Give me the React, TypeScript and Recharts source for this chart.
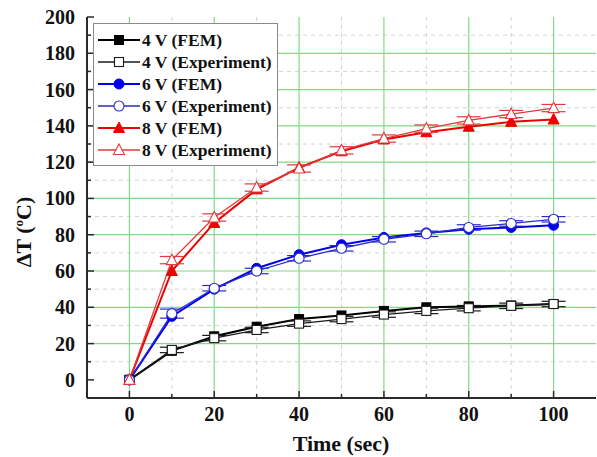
import React from "react";
import {
  ComposedChart,
  Line,
  XAxis,
  YAxis,
  CartesianGrid,
  Legend,
  ErrorBar,
} from "recharts";

// heating time (s) and temperature rise (°C) per drive voltage
const times = [0, 10, 20, 30, 40, 50, 60, 70, 80, 90, 100];
const fem4 = [0, 16, 24, 29.3, 33.5, 35.5, 38, 40, 40.5, 41, 41.8];
const exp4 = [0, 16.5, 23, 27.5, 31, 33.5, 36, 38, 39.5, 40.8, 41.8];
const fem6 = [0, 35, 50, 61.5, 69, 74.5, 78.5, 81, 83, 84, 85.2];
const exp6 = [0, 36.5, 50.5, 60, 67, 72.5, 77.5, 80.5, 84, 86.2, 88.5];
const fem8 = [0, 60, 86.5, 105, 117, 126, 132.5, 136.5, 139.5, 142.2, 143.5];
const exp8 = [0, 66, 89.5, 106, 116.5, 126.5, 133, 138.5, 143, 146.5, 149.8];
const err4 = [0, 1.5, 1.5, 1.5, 1.5, 1.5, 1.5, 1.5, 1.5, 1.5, 1.5];
const err6 = [0, 2.5, 1.5, 1.5, 1.5, 1.5, 1.5, 1.5, 1.5, 1.5, 1.5];
const err8 = [0, 2, 2, 2, 2, 2, 2, 2, 2, 2, 2];

const xTicks = [0, 10, 20, 30, 40, 50, 60, 70, 80, 90, 100];
const yTicks = [
  0, 10, 20, 30, 40, 50, 60, 70, 80, 90, 100, 110, 120, 130, 140, 150, 160,
  170, 180, 190, 200,
];
const majorX = [0, 20, 40, 60, 80, 100];
const minorX = [10, 30, 50, 70, 90];
const majorY = [20, 40, 60, 80, 100, 120, 140, 160, 180];
const minorY = [10, 30, 50, 70, 90, 110, 130, 150, 170, 190];

const data = times.map((t, i) => ({
  t,
  fem4: fem4[i],
  exp4: exp4[i],
  fem6: fem6[i],
  exp6: exp6[i],
  fem8: fem8[i],
  exp8: exp8[i],
  err4: err4[i],
  err6: err6[i],
  err8: err8[i],
}));

const FONT = "'Liberation Serif', 'Times New Roman', serif";
const FRAME = "#2a2a2a";
const MAJOR = 7;
const MINOR = 4;

type Shape = "square" | "circle" | "triangle";

interface MarkProps {
  cx: number;
  cy: number;
  shape: Shape;
  color: string;
  open?: boolean;
}

function Mark({ cx, cy, shape, color, open }: MarkProps) {
  const fill = open ? "#fff" : color;
  const sw = open ? 1.1 : 1;
  if (shape === "square") {
    return (
      <rect x={cx - 4.5} y={cy - 4.5} width={9} height={9} fill={fill} stroke={color} strokeWidth={sw} />
    );
  }
  if (shape === "circle") {
    return <circle cx={cx} cy={cy} r={5} fill={fill} stroke={color} strokeWidth={sw} />;
  }
  return (
    <polygon
      points={`${cx},${cy - 6} ${cx + 5.5},${cy + 4.5} ${cx - 5.5},${cy + 4.5}`}
      fill={fill}
      stroke={color}
      strokeWidth={sw}
    />
  );
}

const series = [
  { key: "fem4", name: "4 V (FEM)", color: "#000", width: 2, shape: "square" as Shape, open: false },
  { key: "exp4", name: "4 V (Experiment)", color: "#1a1a1a", width: 1.3, shape: "square" as Shape, open: true, err: "err4" },
  { key: "fem6", name: "6 V (FEM)", color: "#0000ee", width: 2, shape: "circle" as Shape, open: false },
  { key: "exp6", name: "6 V (Experiment)", color: "#2a2ac8", width: 1.3, shape: "circle" as Shape, open: true, err: "err6" },
  { key: "fem8", name: "8 V (FEM)", color: "#ee0000", width: 2, shape: "triangle" as Shape, open: false },
  { key: "exp8", name: "8 V (Experiment)", color: "#e03a3a", width: 1.3, shape: "triangle" as Shape, open: true, err: "err8" },
];

function BottomTick({ x, y, payload }: any) {
  const major = payload.value % 20 === 0;
  return (
    <g>
      <line x1={x} x2={x} y1={y} y2={y - (major ? MAJOR : MINOR)} stroke={FRAME} strokeWidth={1.5} />
      {major && (
        <text x={x} y={y + 23} textAnchor="middle" fontFamily={FONT} fontWeight="bold" fontSize={20} fill="#111">
          {payload.value}
        </text>
      )}
    </g>
  );
}

function TopTick({ x, y, payload }: any) {
  const major = payload.value % 20 === 0;
  return <line x1={x} x2={x} y1={y} y2={y + (major ? MAJOR : MINOR)} stroke={FRAME} strokeWidth={1.5} />;
}

function LeftTick({ x, y, payload }: any) {
  const major = payload.value % 20 === 0;
  return (
    <g>
      <line x1={x} x2={x + (major ? MAJOR : MINOR)} y1={y} y2={y} stroke={FRAME} strokeWidth={1.5} />
      {major && (
        <text x={x - 12} y={y} dy="0.35em" textAnchor="end" fontFamily={FONT} fontWeight="bold" fontSize={20} fill="#111">
          {payload.value}
        </text>
      )}
    </g>
  );
}

function RightTick({ x, y, payload }: any) {
  const major = payload.value % 20 === 0;
  return <line x1={x} x2={x - (major ? MAJOR : MINOR)} y1={y} y2={y} stroke={FRAME} strokeWidth={1.5} />;
}

function LegendBox() {
  return (
    <div
      style={{
        border: "1px solid #8a8a8a",
        background: "#fff",
        width: 183,
        padding: "5px 0 4px 0",
        fontFamily: FONT,
        fontWeight: "bold",
        fontSize: 17.5,
        color: "#111",
        lineHeight: "22px",
      }}
    >
      {series.map((s) => (
        <div key={s.key} style={{ display: "flex", alignItems: "center", height: 22 }}>
          <svg width={48} height={22} style={{ flex: "none" }}>
            <line x1={4} x2={46} y1={11} y2={11} stroke={s.color} strokeWidth={s.width} />
            <Mark cx={25} cy={11} shape={s.shape} color={s.color} open={s.open} />
          </svg>
          <span style={{ whiteSpace: "nowrap" }}>{s.name}</span>
        </div>
      ))}
    </div>
  );
}

export default function App() {
  return (
    <div style={{ position: "absolute", left: 0, top: 0, background: "#fff" }}>
      <ComposedChart
        width={597}
        height={457}
        data={data}
        margin={{ top: 17, right: 1, bottom: 0, left: 0 }}
      >
        <CartesianGrid
          stroke="#d2d2d2"
          strokeDasharray="4 4"
          horizontalValues={minorY}
          verticalValues={minorX}
        />
        <CartesianGrid
          stroke="#86d886"
          strokeWidth={1.2}
          horizontalValues={majorY}
          verticalValues={majorX}
        />
        <XAxis
          dataKey="t"
          type="number"
          domain={[-10, 110]}
          allowDataOverflow
          ticks={xTicks}
          interval={0}
          height={59}
          tickSize={0}
          tickMargin={0}
          tickLine={false}
          tick={<BottomTick />}
          axisLine={{ stroke: FRAME, strokeWidth: 2 }}
          label={() => (
            <text x={341} y={451} textAnchor="middle" fontFamily={FONT} fontWeight="bold" fontSize={22} fill="#111">
              Time (sec)
            </text>
          )}
        />
        <XAxis
          xAxisId="top"
          orientation="top"
          type="number"
          domain={[-10, 110]}
          allowDataOverflow
          ticks={xTicks}
          interval={0}
          height={0}
          tickSize={0}
          tickMargin={0}
          tickLine={false}
          tick={<TopTick />}
          axisLine={{ stroke: FRAME, strokeWidth: 2 }}
        />
        <YAxis
          type="number"
          domain={[-10, 200]}
          allowDataOverflow
          ticks={yTicks}
          interval={0}
          width={87}
          tickSize={0}
          tickMargin={0}
          tickLine={false}
          tick={<LeftTick />}
          axisLine={{ stroke: FRAME, strokeWidth: 2 }}
          label={() => (
            <text
              x={31}
              y={232}
              transform="rotate(-90, 31, 232)"
              textAnchor="middle"
              fontFamily={FONT}
              fontWeight="bold"
              fontSize={22}
              fill="#111"
            >
              ΔT (
              <tspan dy={-8} fontSize={13}>o</tspan>
              <tspan dy={8}>C)</tspan>
            </text>
          )}
        />
        <YAxis
          yAxisId="right"
          orientation="right"
          type="number"
          domain={[-10, 200]}
          allowDataOverflow
          ticks={yTicks}
          interval={0}
          width={0}
          tickSize={0}
          tickMargin={0}
          tickLine={false}
          tick={<RightTick />}
          axisLine={{ stroke: FRAME, strokeWidth: 2 }}
        />
        <Legend
          layout="vertical"
          align="center"
          verticalAlign="middle"
          wrapperStyle={{ left: 93, top: 23, width: "auto" }}
          content={() => <LegendBox />}
        />
        {series.map((s) => (
          <Line
            key={s.key}
            dataKey={s.key}
            name={s.name}
            type="linear"
            stroke={s.color}
            strokeWidth={s.width}
            isAnimationActive={false}
            dot={(p: any) => (
              <Mark key={`${s.key}-${p.index}`} cx={p.cx} cy={p.cy} shape={s.shape} color={s.color} open={s.open} />
            )}
            activeDot={false}
          >
            {s.err && (
              <ErrorBar dataKey={s.err} width={12} strokeWidth={1.2} stroke={s.color} direction="y" />
            )}
          </Line>
        ))}
      </ComposedChart>
    </div>
  );
}
